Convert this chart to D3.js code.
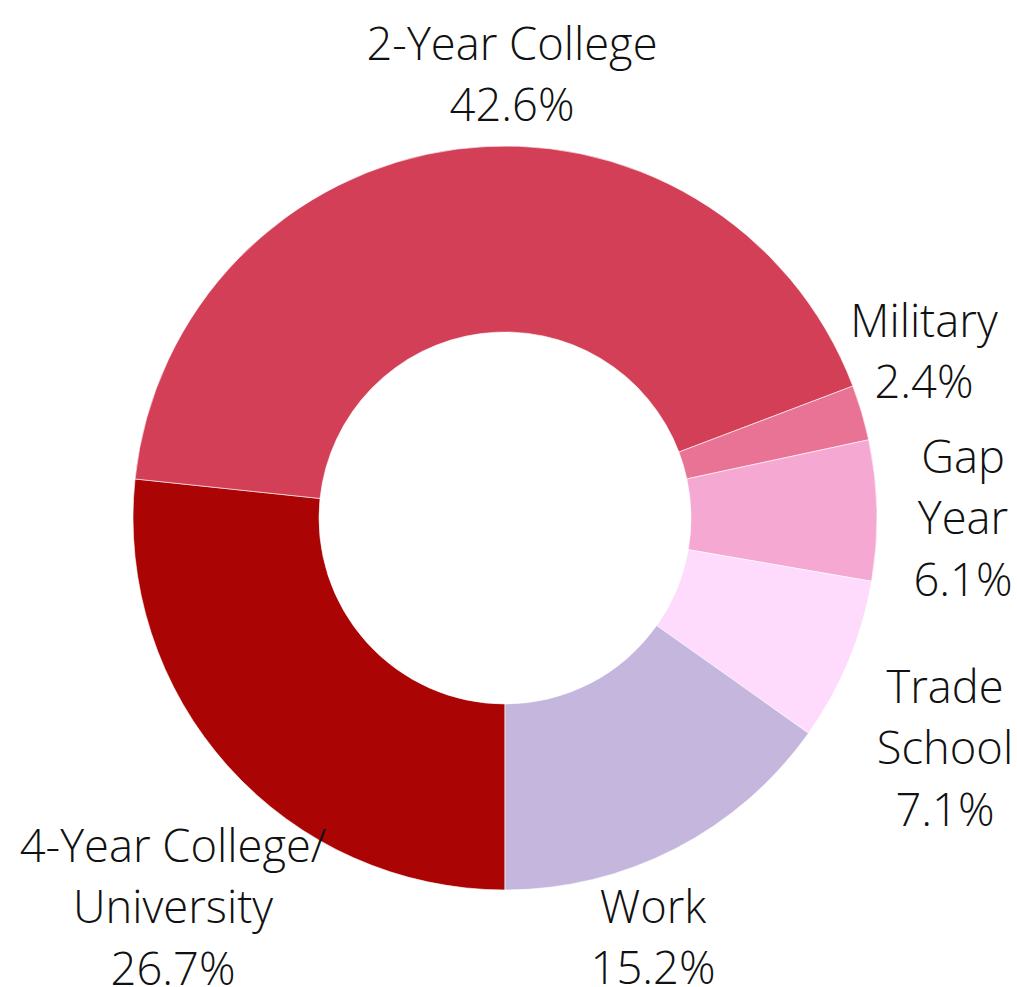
<!DOCTYPE html>
<html>
<head>
<meta charset="utf-8">
<script src="https://cdn.jsdelivr.net/npm/d3@7"></script>
<style>
  html, body { margin: 0; padding: 0; background: #fff; }
  svg { display: block; }
  text { font-family: "Open Sans", sans-serif; font-weight: 300; fill: #111; }
</style>
</head>
<body>
<svg id="chart" width="1017" height="987"></svg>
<script>
// Data (pie order: clockwise starting at 6 o'clock)
const categories = ["4-Year College/ University", "2-Year College", "Military", "Gap Year", "Trade School", "Work"];
const values = [26.7, 42.6, 2.4, 6.1, 7.1, 15.2];
const labelLines = [
  ["4-Year College/", "University"],
  ["2-Year College"],
  ["Military"],
  ["Gap", "Year"],
  ["Trade", "School"],
  ["Work"]
];
const colors = ["#AA0404", "#D33F56", "#E97395", "#F4A8D2", "#FEDAFD", "#C5B6DD"];

// Layout (label anchor: x centre, first baseline)
const labelPos = [
  { x: 173, y: 862 },
  { x: 512, y: 60 },
  { x: 924, y: 337 },
  { x: 963, y: 473 },
  { x: 945, y: 703 },
  { x: 653, y: 923 }
];
const cx = 505, cy = 518, outerR = 372, innerR = 186;
const lineH = 61.3;
const fontSize = 45.3;

const svg = d3.select("#chart");
const g = svg.append("g").attr("transform", `translate(${cx},${cy})`);

const pie = d3.pie().sort(null).startAngle(Math.PI).endAngle(3 * Math.PI);
const arcs = pie(values);
const arc = d3.arc().innerRadius(innerR).outerRadius(outerR);

g.selectAll("path")
  .data(arcs)
  .join("path")
  .attr("d", arc)
  .attr("fill", (d, i) => colors[i])
  .attr("stroke", "#fff")
  .attr("stroke-width", 0.6);

const labels = svg.selectAll("text.lbl")
  .data(categories)
  .join("text")
  .attr("class", "lbl")
  .attr("text-anchor", "middle")
  .attr("font-size", fontSize)
  .attr("x", (d, i) => labelPos[i].x)
  .attr("y", (d, i) => labelPos[i].y);

labels.each(function(d, i) {
  const t = d3.select(this);
  const lines = labelLines[i].concat([values[i].toFixed(1) + "%"]);
  lines.forEach((ln, k) => {
    t.append("tspan")
      .attr("x", labelPos[i].x)
      .attr("dy", k === 0 ? 0 : lineH)
      .text(ln);
  });
});
</script>
</body>
</html>
